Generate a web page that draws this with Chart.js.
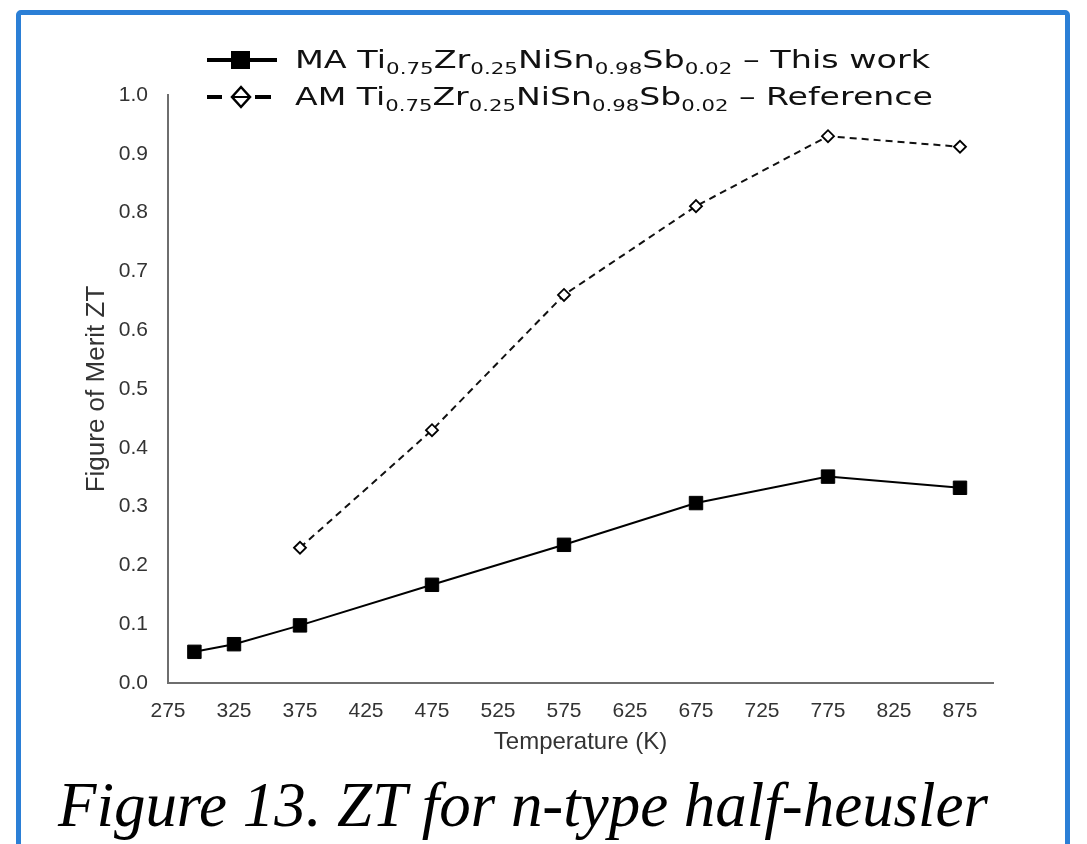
<!DOCTYPE html>
<html>
<head>
<meta charset="utf-8">
<script src="https://cdn.jsdelivr.net/npm/chart.js@4.4.1/dist/chart.umd.min.js"></script>
<style>
  html, body { margin: 0; padding: 0; background: #fff; }
  body { width: 1087px; height: 844px; position: relative; overflow: hidden; }
  #frame {
    position: absolute; left: 16px; top: 10px; width: 1054px; height: 900px;
    border: 5px solid #2b7fd6; border-radius: 5px; box-sizing: border-box;
  }
  #chart { position: absolute; left: 0; top: 0; }
  .leg { position: absolute; left: 295px; font-family: "DejaVu Sans", Verdana, sans-serif;
         font-size: 25px; line-height: 28px; color: #111; white-space: nowrap; transform-origin: left center; }
  .leg sub { font-size: 16px; line-height: 0; vertical-align: -6px; }
  .mk { position: absolute; left: 200px; }
  #caption { position: absolute; left: 58px; top: 774px; font-family: "Liberation Serif", "Times New Roman", serif;
             font-style: italic; font-size: 63px; line-height: 63px; color: #000; white-space: nowrap;
             transform-origin: left center; }
</style>
</head>
<body>
<div id="frame"></div>
<canvas id="chart" width="1087" height="763"></canvas>

<svg class="mk" style="top:47px" width="80" height="26">
  <line x1="7" y1="13" x2="77" y2="13" stroke="#000" stroke-width="4"/>
  <rect x="31" y="4" width="19" height="18" fill="#000"/>
</svg>
<div class="leg" id="leg1" style="top:46px">MA Ti<sub>0.75</sub>Zr<sub>0.25</sub>NiSn<sub>0.98</sub>Sb<sub>0.02</sub> – This work</div>

<svg class="mk" style="top:84px" width="80" height="26">
  <line x1="7" y1="13" x2="22" y2="13" stroke="#000" stroke-width="4"/>
  <line x1="55" y1="13" x2="71" y2="13" stroke="#000" stroke-width="4"/>
  <polygon points="41,3 50,13 41,23 32,13" fill="#fff" stroke="#000" stroke-width="2.5"/>
  <line x1="33" y1="13" x2="49" y2="13" stroke="#000" stroke-width="2"/>
</svg>
<div class="leg" id="leg2" style="top:83px">AM Ti<sub>0.75</sub>Zr<sub>0.25</sub>NiSn<sub>0.98</sub>Sb<sub>0.02</sub> – Reference</div>

<div id="caption">Figure 13. ZT for n-type half-heusler</div>

<script>
// MA sample (this work)
const tempsThisWork = [295, 325, 375, 475, 575, 675, 775, 875];
const ztThisWork = [0.053, 0.066, 0.098, 0.167, 0.235, 0.306, 0.351, 0.332];
// AM sample (reference)
const tempsReference = [375, 475, 575, 675, 775, 875];
const ztReference = [0.230, 0.430, 0.660, 0.811, 0.930, 0.912];

const xTicks = [275, 325, 375, 425, 475, 525, 575, 625, 675, 725, 775, 825, 875];
const yTicks = [0, 0.1, 0.2, 0.3, 0.4, 0.5, 0.6, 0.7, 0.8, 0.9, 1.0];

const toPoints = (xs, ys) => xs.map((x, i) => ({ x: x, y: ys[i] }));

const sans = "'Liberation Sans', Arial, sans-serif";
const tickFont = { family: sans, size: 21 };
const axisColor = "#6e6e6e";
const textColor = "#333";

new Chart(document.getElementById("chart").getContext("2d"), {
  type: "line",
  data: {
    datasets: [
      {
        label: "MA Ti0.75Zr0.25NiSn0.98Sb0.02 – This work",
        data: toPoints(tempsThisWork, ztThisWork),
        borderColor: "#000",
        borderWidth: 2,
        backgroundColor: "#000",
        pointStyle: "rect",
        pointRadius: 9.5,
        pointBorderWidth: 1,
        pointBackgroundColor: "#000",
        pointBorderColor: "#000",
        tension: 0,
      },
      {
        label: "AM Ti0.75Zr0.25NiSn0.98Sb0.02 – Reference",
        data: toPoints(tempsReference, ztReference),
        borderColor: "#111",
        borderWidth: 2,
        borderDash: [7, 5],
        pointStyle: "rectRot",
        pointRadius: 6,
        pointBorderWidth: 1.8,
        pointBackgroundColor: "#fff",
        pointBorderColor: "#000",
        tension: 0,
      },
    ],
  },
  options: {
    responsive: false,
    animation: false,
    devicePixelRatio: 1,
    clip: false,
    layout: { padding: { top: 95, right: 94, bottom: 0, left: 0 } },
    plugins: { legend: { display: false }, tooltip: { enabled: false } },
    scales: {
      x: {
        type: "linear",
        min: 275,
        max: 900,
        afterBuildTicks: (scale) => { scale.ticks = xTicks.map((v) => ({ value: v })); },
        afterFit: (scale) => { scale.height = 80; },
        grid: { display: false, drawTicks: false },
        border: { display: true, color: axisColor, width: 2 },
        ticks: { padding: 16, font: tickFont, color: textColor, maxRotation: 0, autoSkip: false,
                 callback: (v) => String(v) },
        title: { display: true, text: "Temperature (K)", font: { family: sans, size: 24 }, color: textColor,
                 padding: { top: 0, bottom: 6 } },
      },
      y: {
        min: 0,
        max: 1,
        afterBuildTicks: (scale) => { scale.ticks = yTicks.map((v) => ({ value: v })); },
        afterFit: (scale) => { scale.width = 168; },
        grid: { display: false, drawTicks: false },
        border: { display: true, color: axisColor, width: 2 },
        ticks: { padding: 20, font: tickFont, color: textColor, autoSkip: false,
                 callback: (v) => Number(v).toFixed(1) },
        title: { display: true, text: "Figure of Merit ZT", font: { family: sans, size: 26 }, color: textColor,
                 padding: { top: 81, bottom: 0 } },
      },
    },
  },
});

// stretch texts to the widths they have in the figure
function fitWidth(el, target) {
  const w = el.getBoundingClientRect().width;
  el.style.transform = "scaleX(" + (target / w).toFixed(3) + ")";
}
fitWidth(document.getElementById("leg1"), 635);
fitWidth(document.getElementById("leg2"), 638);
fitWidth(document.getElementById("caption"), 930);
</script>
</body>
</html>
